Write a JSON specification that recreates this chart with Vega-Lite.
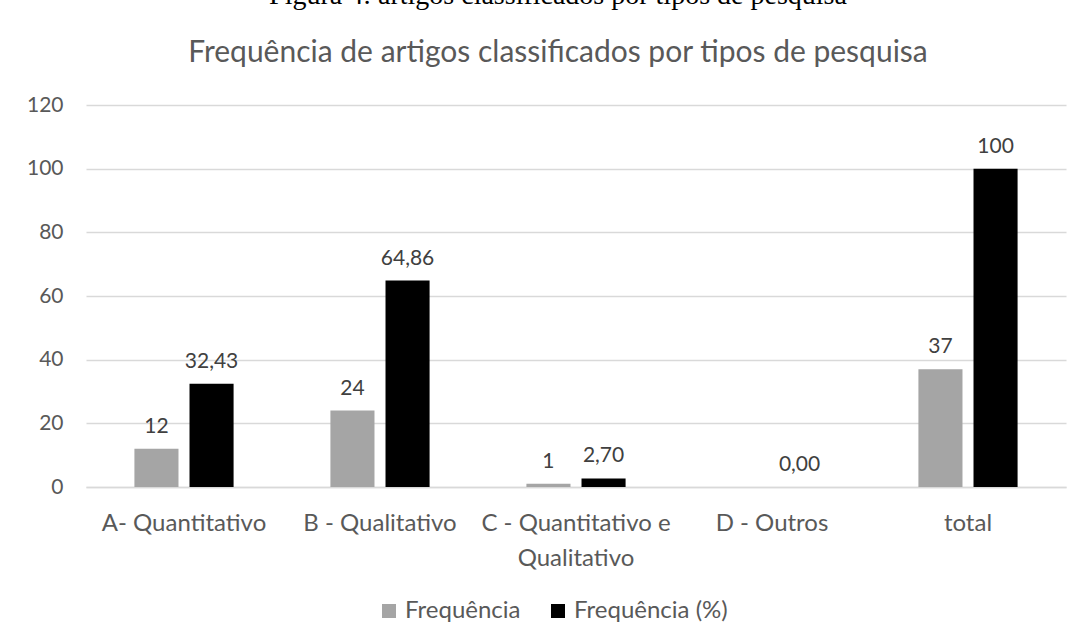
{
  "$schema": "https://vega.github.io/schema/vega-lite/v6.json",
  "width": 980,
  "height": 382,
  "autosize": "none",
  "padding": {"left": 86, "top": 105, "right": 15, "bottom": 157},
  "background": "white",
  "config": {"view": {"stroke": null}, "font": "Lato"},
  "title": {
    "text": "Figura 4: artigos classificados por tipos de pesquisa",
    "subtitle": "Frequência de artigos classificados por tipos de pesquisa",
    "font": "Liberation Serif",
    "fontSize": 28,
    "fontWeight": "normal",
    "color": "#000000",
    "subtitleFont": "Lato",
    "subtitleFontSize": 30,
    "subtitleColor": "#595959",
    "subtitlePadding": 28,
    "anchor": "middle",
    "dx": -18,
    "offset": 26
  },
  "data": {
    "values": [
      {"categoria": "A- Quantitativo", "serie": "Frequência", "valor": 12, "label": "12"},
      {"categoria": "A- Quantitativo", "serie": "Frequência (%)", "valor": 32.43, "label": "32,43"},
      {"categoria": "B - Qualitativo", "serie": "Frequência", "valor": 24, "label": "24"},
      {"categoria": "B - Qualitativo", "serie": "Frequência (%)", "valor": 64.86, "label": "64,86"},
      {"categoria": "C - Quantitativo e Qualitativo", "serie": "Frequência", "valor": 1, "label": "1"},
      {"categoria": "C - Quantitativo e Qualitativo", "serie": "Frequência (%)", "valor": 2.7, "label": "2,70"},
      {"categoria": "D - Outros", "serie": "Frequência", "valor": 0, "label": ""},
      {"categoria": "D - Outros", "serie": "Frequência (%)", "valor": 0, "label": "0,00"},
      {"categoria": "total", "serie": "Frequência", "valor": 37, "label": "37"},
      {"categoria": "total", "serie": "Frequência (%)", "valor": 100, "label": "100"}
    ]
  },
  "encoding": {
    "x": {
      "field": "categoria",
      "type": "nominal",
      "sort": null,
      "scale": {"paddingInner": 0.494, "paddingOuter": 0.247},
      "axis": {
        "title": null,
        "labelAngle": 0,
        "labelFont": "Lato",
        "labelFontSize": 24,
        "labelColor": "#595959",
        "labelPadding": 36,
        "labelLineHeight": 35,
        "labelBaseline": "middle",
        "labelLimit": 400,
        "ticks": false,
        "domainColor": "#d9d9d9",
        "domainWidth": 1.5,
        "labelExpr": "datum.value == 'C - Quantitativo e Qualitativo' ? ['C - Quantitativo e', 'Qualitativo'] : datum.value"
      }
    },
    "xOffset": {"field": "serie", "type": "nominal", "sort": null, "scale": {"paddingInner": 0.2}},
    "y": {
      "field": "valor",
      "type": "quantitative",
      "scale": {"domain": [0, 120]},
      "axis": {
        "title": null,
        "values": [0, 20, 40, 60, 80, 100, 120],
        "domain": false,
        "ticks": false,
        "labelFont": "Lato",
        "labelFontSize": 21,
        "labelColor": "#595959",
        "labelPadding": 23,
        "gridColor": "#d9d9d9",
        "gridWidth": 1.5
      }
    }
  },
  "layer": [
    {
      "mark": {"type": "bar"},
      "encoding": {
        "color": {
          "field": "serie",
          "type": "nominal",
          "sort": null,
          "scale": {"domain": ["Frequência", "Frequência (%)"], "range": ["#A5A5A5", "#000000"]},
          "legend": {
            "title": null,
            "orient": "none",
            "legendX": 291,
            "legendY": 494,
            "direction": "horizontal",
            "symbolType": "square",
            "symbolSize": 196,
            "symbolStrokeWidth": 0,
            "labelFont": "Lato",
            "labelFontSize": 24,
            "labelColor": "#595959",
            "labelOffset": 4,
            "columnPadding": 25
          }
        }
      }
    },
    {
      "mark": {"type": "text", "baseline": "bottom", "dy": -12, "font": "Lato", "fontSize": 21, "color": "#404040"},
      "encoding": {"text": {"field": "label"}}
    }
  ]
}
